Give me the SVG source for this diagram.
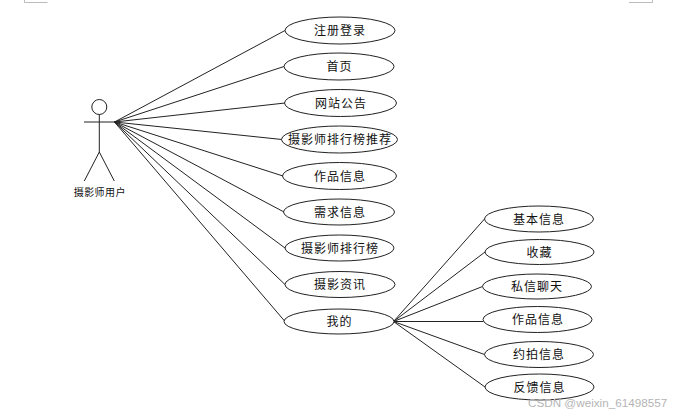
<svg xmlns="http://www.w3.org/2000/svg" width="686" height="417" viewBox="0 0 686 417">
<style>
.n{fill:#fff;stroke:#222;stroke-width:1}
.l{fill:none;stroke:#222;stroke-width:1}
.t{font-family:"Noto Sans CJK SC","Liberation Sans",sans-serif;font-size:12px;letter-spacing:1px;fill:#111;text-anchor:middle}
.s{font-size:10px;letter-spacing:.4px}
.m{fill:none;stroke:#bbb;stroke-width:1}
.w{font-family:"Liberation Sans",sans-serif;font-size:11.700px;fill:#b5b5b5}
</style>
<rect width="686" height="417" fill="#fff"/>
<path class="m" d="M24.500 0V2.500H47.500M629 2.500H652.500V0"/>
<g id="connectors" class="l">
<path d="M114.500 122L285 30.500M114.500 122L284 66.500M114.500 122L285 103M114.500 122L282 139.500M114.500 122L283 176M114.500 122L284 212M114.500 122L285 248M114.500 122L285 284.500M114.500 122L285 321.500"/>
<path d="M393.500 321.500L484.500 219M393.500 321.500L485 252M393.500 321.500L482.500 286.500M393.500 321.500L483 321.500M393.500 321.500L484.500 354.500M393.500 321.500L485 387"/>
</g>
<g id="actor">
<circle class="l" cx="99.300" cy="107" r="7.500"/>
<path class="l" d="M99.300 114.500V152M84 122H115M99.300 152L84.300 181M99.300 152L114.300 181"/>
<text class="t s" x="99.800" y="196">摄影师用户</text>
</g>
<g id="n1"><ellipse class="n" cx="340" cy="30.500" rx="55" ry="13.500"/><text class="t" x="340" y="35">注册登录</text></g>
<g id="n2"><ellipse class="n" cx="339" cy="66.500" rx="55" ry="13.500"/><text class="t" x="339.500" y="71">首页</text></g>
<g id="n3"><ellipse class="n" cx="340.500" cy="103" rx="56" ry="13.500"/><text class="t" x="341" y="107.500">网站公告</text></g>
<g id="n4"><ellipse class="n" cx="339.500" cy="139.500" rx="58" ry="13.500"/><text class="t" x="340" y="144">摄影师排行榜推荐</text></g>
<g id="n5"><ellipse class="n" cx="339.500" cy="176" rx="57" ry="13.500"/><text class="t" x="340" y="180.500">作品信息</text></g>
<g id="n6"><ellipse class="n" cx="339" cy="212" rx="55.500" ry="13"/><text class="t" x="340" y="216.500">需求信息</text></g>
<g id="n7"><ellipse class="n" cx="339.500" cy="248" rx="54.500" ry="13"/><text class="t" x="340" y="252.500">摄影师排行榜</text></g>
<g id="n8"><ellipse class="n" cx="340" cy="284.500" rx="55" ry="13"/><text class="t" x="340" y="289">摄影资讯</text></g>
<g id="n9"><ellipse class="n" cx="339" cy="321.500" rx="55" ry="12.500"/><text class="t" x="339.500" y="326">我的</text></g>
<g id="r1"><ellipse class="n" cx="539" cy="219" rx="54.500" ry="13"/><text class="t" x="539" y="223.500">基本信息</text></g>
<g id="r2"><ellipse class="n" cx="539.500" cy="252" rx="54.500" ry="12.500"/><text class="t" x="539.500" y="256.500">收藏</text></g>
<g id="r3"><ellipse class="n" cx="537" cy="286.500" rx="54.500" ry="12.500"/><text class="t" x="537" y="291">私信聊天</text></g>
<g id="r4"><ellipse class="n" cx="537.500" cy="319.500" rx="54.500" ry="13"/><text class="t" x="538" y="324">作品信息</text></g>
<g id="r5"><ellipse class="n" cx="539" cy="354.500" rx="54.500" ry="13"/><text class="t" x="539" y="359">约拍信息</text></g>
<g id="r6"><ellipse class="n" cx="539.500" cy="387" rx="54.500" ry="13"/><text class="t" x="539.500" y="391.500">反馈信息</text></g>
<text class="w" x="528" y="407">CSDN @weixin_61498557</text>
</svg>
